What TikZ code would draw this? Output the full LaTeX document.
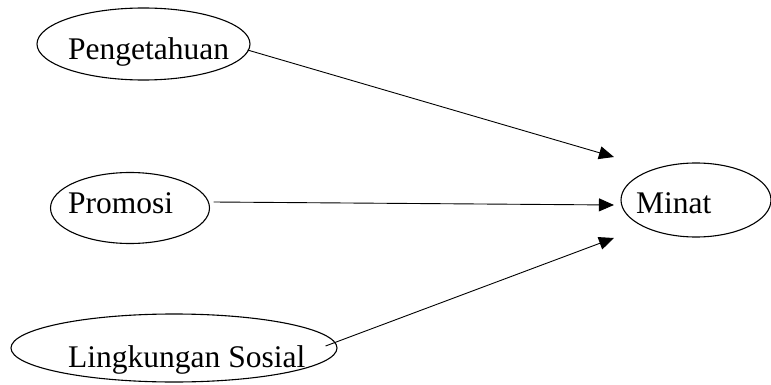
\documentclass[tikz,border=0pt]{standalone}
\usepackage{fontspec}
\setmainfont{Liberation Serif}
\usetikzlibrary{shapes.geometric,arrows.meta,calc}
\tikzset{
  oval/.style={draw, ellipse, line width=1.1pt, inner sep=0pt},
  lbl/.style={anchor=base west, inner sep=0pt, font=\fontsize{31.5}{38}\selectfont},
  link/.style={line width=0.9pt, -{Triangle[length=15pt,width=13pt]}}
}
\begin{document}
\begin{tikzpicture}[x=1pt,y=-1pt]
\useasboundingbox (0,0) rectangle (771,385);

% variable ovals
\node[oval, minimum width=213pt, minimum height=72pt] (peng) at (143.5,44) {};
\node[oval, minimum width=159pt, minimum height=71pt] (promo) at (130,208) {};
\node[oval, minimum width=326pt, minimum height=68pt] (ling) at (174,348) {};
\node[oval, minimum width=150pt, minimum height=74pt] (minat) at (696,200) {};

% labels
\node[lbl] (pengText) at (68,60) {Pengetahuan};
\node[lbl] (promoText) at (68,213) {Promosi};
\node[lbl] (lingText) at (68,367) {Lingkungan Sosial};
\node[lbl] (minatText) at (636,213) {Minat};

% influences on Minat
\draw[link] ($(peng.east)+(-3,6)$) -- ($(minat.west)+(-6.5,-43)$);
\draw[link] ($(promo.east)+(3.5,-6)$) -- ($(minat.west)+(-6.5,5)$);
\draw[link] ($(ling.east)+(-12,-2)$) -- ($(minat.west)+(-6.5,38)$);
\end{tikzpicture}
\end{document}
